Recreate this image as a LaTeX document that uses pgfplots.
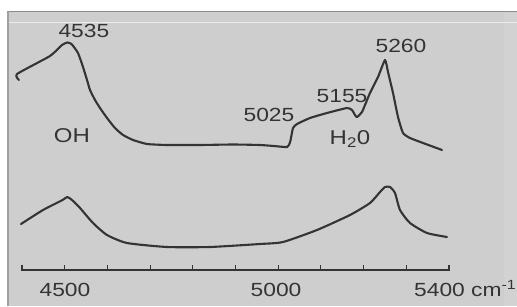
\documentclass[border=0pt]{standalone}
\usepackage{fontspec}
\setmainfont{Liberation Sans}
\usepackage{graphicx}
\usepackage{pgfplots}
\pgfplotsset{compat=1.18}
\definecolor{bg}{RGB}{206,206,206}
\definecolor{ink}{RGB}{52,52,52}
\definecolor{edge}{RGB}{140,140,140}
\newcommand{\lab}[1]{\scalebox{1.2}[1]{#1}}
\begin{document}
\begin{tikzpicture}
\begin{axis}[
  scale only axis, width=517pt, height=306pt,
  xmin=4348.5, xmax=5559.3, ymin=0, ymax=306,
  hide axis, clip=false,
]
% background
\fill[white] (axis cs:4348.5,0) rectangle (axis cs:5559.3,306);
\fill[bg] (axis cs:4367.2,0) rectangle (axis cs:5559.3,295);
\fill[bg!92!white] (axis cs:5530,0) rectangle (axis cs:5559.3,293);
\draw[edge, line width=1.6pt] (axis cs:4367.2,294.5) -- (axis cs:5559.3,294.5);
\draw[edge!70!bg, line width=1.2pt] (axis cs:4367.2,0) -- (axis cs:4367.2,294.5);
\draw[white!60!bg, line width=1pt] (axis cs:4369,283) -- (axis cs:5559.3,283);

% upper spectrum
\addplot[ink, line width=2.1pt, smooth, tension=0.3, line join=round, line cap=round] coordinates {
(4393,226) (4388.3,232) (4465.6,250) (4493.7,261) (4506,263.5) (4516,262) (4531.2,253)
(4542.9,239) (4552.3,226) (4559.3,216) (4571.0,206) (4582.7,198) (4599.1,188)
(4617.8,178) (4636.6,171) (4660.0,166) (4692.8,162) (4739.6,161) (4816.9,161)
(4894.2,161.5) (4957.4,161) (4990,160) (5021,159) (5028,164) (5034.7,178)
(5044.1,182) (5074.5,188) (5114.3,193) (5161.2,198) (5172.9,196) (5179.9,191)
(5184.6,189) (5196.3,194) (5215.0,213) (5233.8,229) (5250.2,246) (5257.2,234)
(5268.9,213) (5280.6,189) (5292.3,173) (5308.7,168) (5339.2,163) (5383.7,156)
};

% lower spectrum
\addplot[ink, line width=2.1pt, smooth, tension=0.35, line join=round, line cap=round] coordinates {
(4397.7,82) (4449.2,96) (4495,106) (4506,109) (4517.1,106) (4535.9,98)
(4566.3,83) (4599.1,71) (4645.9,63) (4739.6,59) (4840.3,59) (4957.4,62)
(5011.3,64) (5090.9,76) (5168.2,91) (5215.0,103) (5238.5,114) (5250.2,119)
(5261.9,119) (5273.6,113) (5285.3,96) (5308.7,83) (5348.5,73) (5395.3,69)
};

% x axis
\draw[ink, line width=1.6pt] (axis cs:4400,36) -- (axis cs:5400,36);
\draw[ink, line width=1.1pt] (axis cs:4400,35) -- (axis cs:4400,41);
\draw[ink, line width=1.1pt] (axis cs:4500,35) -- (axis cs:4500,41);
\draw[ink, line width=1.1pt] (axis cs:4600,35) -- (axis cs:4600,41);
\draw[ink, line width=1.1pt] (axis cs:4700,35) -- (axis cs:4700,41);
\draw[ink, line width=1.1pt] (axis cs:4800,35) -- (axis cs:4800,41);
\draw[ink, line width=1.1pt] (axis cs:4900,35) -- (axis cs:4900,41);
\draw[ink, line width=1.1pt] (axis cs:5000,35) -- (axis cs:5000,41);
\draw[ink, line width=1.1pt] (axis cs:5100,35) -- (axis cs:5100,41);
\draw[ink, line width=1.1pt] (axis cs:5200,35) -- (axis cs:5200,41);
\draw[ink, line width=1.1pt] (axis cs:5300,35) -- (axis cs:5300,41);
\draw[ink, line width=1.1pt] (axis cs:5400,35) -- (axis cs:5400,41);
\node[ink, anchor=base, font=\fontsize{19}{21}\selectfont] at (axis cs:4500.7,10) {\lab{4500}};
\node[ink, anchor=base, font=\fontsize{19}{21}\selectfont] at (axis cs:4994.9,10) {\lab{5000}};
\node[ink, anchor=base west, inner sep=0pt, font=\fontsize{19}{21}\selectfont] at (axis cs:5318,10) {\lab{5400 cm\textsuperscript{-1}}};

% annotations
\node[ink, anchor=base, font=\fontsize{19}{21}\selectfont] at (axis cs:4545,268) {\lab{4535}};
\node[ink, anchor=base, font=\fontsize{20}{22}\selectfont] at (axis cs:4517,164) {\lab{OH}};
\node[ink, anchor=base, font=\fontsize{19}{21}\selectfont] at (axis cs:4978.5,185) {\lab{5025}};
\node[ink, anchor=base, font=\fontsize{19}{21}\selectfont] at (axis cs:5149.5,204) {\lab{5155}};
\node[ink, anchor=base, font=\fontsize{20}{22}\selectfont] at (axis cs:5168.2,162) {\lab{H\textsubscript{2}0}};
\node[ink, anchor=base, font=\fontsize{19}{21}\selectfont] at (axis cs:5287.6,254) {\lab{5260}};
\end{axis}
\pgfresetboundingbox
\useasboundingbox (current axis.south west) rectangle (current axis.north east);
\end{tikzpicture}
\end{document}
